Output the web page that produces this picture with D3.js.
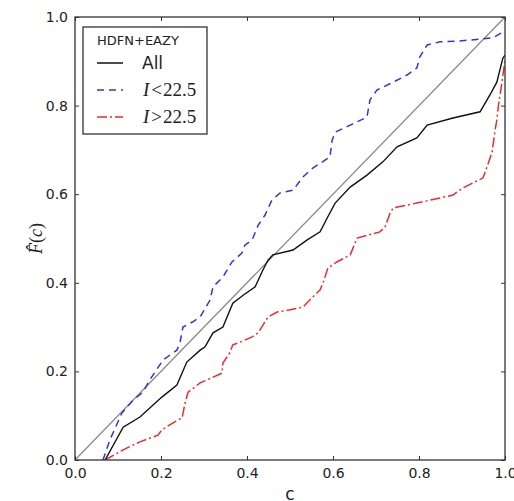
<!DOCTYPE html>
<html lang="en">
<head>
<meta charset="utf-8">
<title>HDFN+EAZY F(c)</title>
<script src="https://d3js.org/d3.v7.min.js"></script>
<style>
  body { margin: 0; background: #fff; }
  text { font-family: "DejaVu Sans", sans-serif; fill: #222; }
  .math { font-family: "Liberation Serif", "DejaVu Serif", serif; }
</style>
</head>
<body>
<script>
// curve values, [c, F(c)]
var allCurve = [[0.07,0.0],[0.112,0.074],[0.151,0.097],[0.202,0.142],[0.237,0.169],[0.26,0.221],
  [0.291,0.248],[0.302,0.255],[0.321,0.287],[0.344,0.3],[0.367,0.354],[0.391,0.372],[0.419,0.391],
  [0.437,0.429],[0.449,0.451],[0.46,0.463],[0.507,0.474],[0.54,0.497],[0.57,0.515],[0.588,0.549],
  [0.605,0.58],[0.64,0.616],[0.679,0.643],[0.716,0.673],[0.749,0.707],[0.795,0.727],[0.819,0.756],
  [0.879,0.772],[0.942,0.786],[0.965,0.824],[0.981,0.853],[0.995,0.907],[1.0,0.914]];

var brightCurve = [[0.065,0.0],[0.081,0.045],[0.109,0.106],[0.135,0.135],[0.158,0.153],[0.174,0.181],
  [0.205,0.226],[0.237,0.248],[0.244,0.264],[0.251,0.3],[0.274,0.312],[0.291,0.323],[0.314,0.361],
  [0.321,0.391],[0.344,0.413],[0.365,0.447],[0.388,0.467],[0.395,0.485],[0.412,0.497],[0.426,0.53],
  [0.442,0.553],[0.458,0.587],[0.477,0.603],[0.507,0.609],[0.53,0.639],[0.553,0.659],[0.593,0.684],
  [0.598,0.722],[0.605,0.74],[0.64,0.756],[0.679,0.774],[0.686,0.813],[0.702,0.835],[0.74,0.853],
  [0.772,0.869],[0.795,0.885],[0.802,0.91],[0.819,0.937],[0.849,0.944],[0.895,0.946],[0.942,0.95],
  [0.972,0.953],[0.995,0.966],[1.0,0.971]];

var faintCurve = [[0.07,0.0],[0.112,0.023],[0.151,0.041],[0.193,0.056],[0.202,0.068],[0.228,0.084],
  [0.249,0.095],[0.256,0.129],[0.263,0.153],[0.291,0.174],[0.321,0.187],[0.342,0.196],[0.344,0.219],
  [0.36,0.242],[0.367,0.26],[0.384,0.266],[0.412,0.278],[0.426,0.287],[0.449,0.323],[0.47,0.334],
  [0.5,0.339],[0.53,0.345],[0.551,0.366],[0.57,0.384],[0.577,0.4],[0.588,0.433],[0.609,0.447],
  [0.64,0.463],[0.656,0.501],[0.709,0.515],[0.721,0.526],[0.733,0.558],[0.74,0.569],[0.795,0.58],
  [0.879,0.598],[0.902,0.614],[0.949,0.637],[0.958,0.661],[0.97,0.695],[0.977,0.745],[0.981,0.767],
  [0.984,0.795],[0.993,0.853],[1.0,0.903]];

var diagonal = [[0, 0], [1, 1]];
var tickValues = [0, 0.2, 0.4, 0.6, 0.8, 1.0];

var width = 514, height = 501;
var boxL = 75, boxR = 505, boxT = 17, boxB = 460;

var svg = d3.select("body").append("svg")
  .attr("width", width)
  .attr("height", height);

var x = d3.scaleLinear().domain([0, 1]).range([boxL, boxR]);
var y = d3.scaleLinear().domain([0, 1]).range([boxB, boxT]);

var line = d3.line()
  .x(function(d) { return x(d[0]); })
  .y(function(d) { return y(d[1]); });

// clip the curves to the axes box
svg.append("clipPath").attr("id", "box")
  .append("rect")
  .attr("x", boxL).attr("y", boxT)
  .attr("width", boxR - boxL).attr("height", boxB - boxT);

var plot = svg.append("g").attr("clip-path", "url(#box)");

plot.append("path").datum(diagonal)
  .attr("d", line).attr("fill", "none")
  .attr("stroke", "#8a8a8a").attr("stroke-width", 1.3);

plot.append("path").datum(faintCurve)
  .attr("d", line).attr("fill", "none")
  .attr("stroke", "#ee2b2b").attr("stroke-width", 1.5)
  .attr("stroke-dasharray", "10,3,2,3");

plot.append("path").datum(brightCurve)
  .attr("d", line).attr("fill", "none")
  .attr("stroke", "#3333dd").attr("stroke-width", 1.5)
  .attr("stroke-dasharray", "7,5");

plot.append("path").datum(allCurve)
  .attr("d", line).attr("fill", "none")
  .attr("stroke", "#111").attr("stroke-width", 1.4);

// axes: inward ticks on all four sides
var bottomAxis = d3.axisBottom(x).tickValues(tickValues).tickSize(-4).tickPadding(8).tickFormat(d3.format(".1f"));
var leftAxis = d3.axisLeft(y).tickValues(tickValues).tickSize(-4).tickPadding(7).tickFormat(d3.format(".1f"));
var topAxis = d3.axisTop(x).tickValues(tickValues).tickSize(-4).tickFormat("");
var rightAxis = d3.axisRight(y).tickValues(tickValues).tickSize(-4).tickFormat("");

function styleAxis(g) {
  g.select(".domain").remove();
  g.selectAll(".tick line").attr("stroke", "#333");
  g.selectAll(".tick text").attr("font-size", 14).attr("fill", "#222")
    .attr("font-family", "DejaVu Sans, sans-serif");
}

svg.append("g").attr("transform", "translate(0," + boxB + ")").call(bottomAxis).call(styleAxis);
svg.append("g").attr("transform", "translate(" + boxL + ",0)").call(leftAxis).call(styleAxis);
svg.append("g").attr("transform", "translate(0," + boxT + ")").call(topAxis).call(styleAxis);
svg.append("g").attr("transform", "translate(" + boxR + ",0)").call(rightAxis).call(styleAxis);

svg.append("rect")
  .attr("x", boxL).attr("y", boxT)
  .attr("width", boxR - boxL).attr("height", boxB - boxT)
  .attr("fill", "none").attr("stroke", "#333").attr("stroke-width", 1.3);

// axis labels
svg.append("text")
  .attr("x", (boxL + boxR) / 2).attr("y", 500)
  .attr("text-anchor", "middle").attr("font-size", 17)
  .text("c");

var ylab = svg.append("text")
  .attr("class", "math")
  .attr("transform", "translate(42," + ((boxT + boxB) / 2) + ") rotate(-90)")
  .attr("text-anchor", "middle").attr("font-size", 18);
ylab.append("tspan").attr("font-style", "italic").text("F\u0302");
ylab.append("tspan").text("(");
ylab.append("tspan").attr("font-style", "italic").text("c");
ylab.append("tspan").text(")");

// legend
var legendEntries = [
  { label: "All", color: "#111", dash: null },
  { label: "<22.5", color: "#3333dd", dash: "7,5" },
  { label: ">22.5", color: "#ee2b2b", dash: "10,3,2,3" }
];

var lg = svg.append("g");
lg.append("rect")
  .attr("x", 83).attr("y", 27).attr("width", 124).attr("height", 107)
  .attr("fill", "#fff").attr("stroke", "#333").attr("stroke-width", 1.3);
lg.append("text")
  .attr("x", 97).attr("y", 45).attr("font-size", 13)
  .text("HDFN+EAZY");

legendEntries.forEach(function(e, i) {
  var ly = 63 + i * 27;
  lg.append("line")
    .attr("x1", 97).attr("x2", 123).attr("y1", ly).attr("y2", ly)
    .attr("stroke", e.color).attr("stroke-width", 1.5)
    .attr("stroke-dasharray", e.dash);
  if (i === 0) {
    lg.append("text").attr("x", 142).attr("y", ly + 6)
      .attr("font-size", 17).text(e.label);
  } else {
    var t = lg.append("text").attr("class", "math")
      .attr("x", 143).attr("y", ly + 6).attr("font-size", 19);
    t.append("tspan").attr("font-style", "italic").text("I");
    t.append("tspan").attr("dx", 2).text(e.label.slice(0, 1));
    t.append("tspan").attr("dx", 1).text(e.label.slice(1));
  }
});
</script>
</body>
</html>
